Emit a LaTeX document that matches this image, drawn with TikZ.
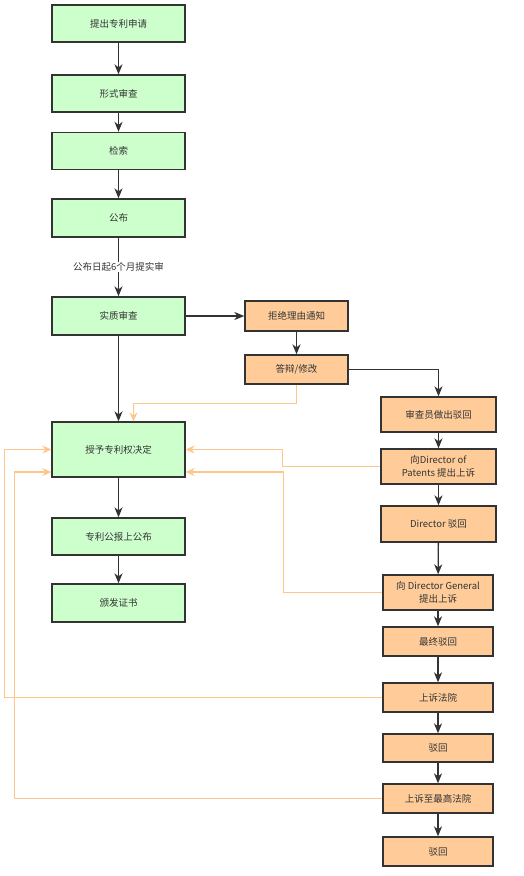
\documentclass[tikz,border=0pt]{standalone}
\usepackage{fontspec}
\setmainfont{Noto Sans CJK SC}
\usepackage{tikz}
\usetikzlibrary{arrows.meta}

\definecolor{boxgreen}{HTML}{CCFFCC}
\definecolor{boxorange}{HTML}{FFCC99}
\definecolor{lineorange}{HTML}{FFC68A}
\definecolor{darkline}{HTML}{333333}

\tikzset{
  greenbox/.style={draw=darkline, line width=1.3pt, fill=boxgreen, text=darkline,
    minimum width=133pt, inner sep=0pt, align=center, font=\fontsize{9.5}{13}\selectfont},
  orangebox/.style={draw=darkline, line width=1.3pt, fill=boxorange, text=darkline,
    minimum width=115pt, inner sep=0pt, align=center, font=\fontsize{9.5}{13}\selectfont},
  flow/.style={draw=darkline, line width=1.3pt, -{Stealth[length=10pt,width=8pt,inset=3pt]}},
  back/.style={draw=lineorange, line width=1.3pt, -{Stealth[length=9pt,width=8pt,inset=3pt]}},
}

\begin{document}
\begin{tikzpicture}[x=1pt,y=-1pt]
      \useasboundingbox (0,0) rectangle (524,876);
      % left column
      \node[greenbox, minimum height=37pt] (apply) at (118.5,23.5) {提出专利申请};
      \node[greenbox, minimum height=37pt] (formal) at (118.5,93.5) {形式审查};
      \node[greenbox, minimum height=37pt] (search) at (118.5,151) {检索};
      \node[greenbox, minimum height=38pt] (publish) at (118.5,218) {公布};
      \node[greenbox, minimum height=38pt] (exam) at (118.5,316) {实质审查};
      \node[greenbox, minimum height=55pt] (grant) at (118.5,449.5) {授予专利权决定};
      \node[greenbox, minimum height=37pt] (gazette) at (118.5,536.5) {专利公报上公布};
      \node[greenbox, minimum height=38pt] (cert) at (118.5,603) {颁发证书};
      % middle column
      \node[orangebox, minimum width=103pt, minimum height=30pt] (refuse) at (296.5,316) {拒绝理由通知};
      \node[orangebox, minimum width=103pt, minimum height=29pt] (reply) at (296.5,369.5) {答辩/修改};
      % right column
      \node[orangebox, minimum height=35pt] (reject) at (438.5,414.5) {审查员做出驳回};
      \node[orangebox, minimum height=35pt] (appdp) at (438.5,466.5) {向Director of\\Patents 提出上诉};
      \node[orangebox, minimum height=36pt] (dreject) at (438.5,524) {Director 驳回};
      \node[orangebox, minimum width=110pt, minimum height=35pt] (appdg) at (438,592.5) {向 Director General\\提出上诉};
      \node[orangebox, minimum width=110pt, minimum height=29pt] (final) at (438,641.5) {最终驳回};
      \node[orangebox, minimum width=110pt, minimum height=29pt] (court) at (438,697.5) {上诉法院};
      \node[orangebox, minimum width=110pt, minimum height=28pt] (crej) at (438,748) {驳回};
      \node[orangebox, minimum width=110pt, minimum height=29pt] (supreme) at (438,798.5) {上诉至最高法院};
      \node[orangebox, minimum width=110pt, minimum height=29pt] (srej) at (438,851.5) {驳回};

      % main flow
      \draw[flow] (apply) -- (formal);
      \draw[flow] (formal) -- (search);
      \draw[flow] (search) -- (publish);
      \draw[flow] (publish) -- node[fill=white, text=darkline, inner sep=1pt,
        font=\fontsize{9.5}{12}\selectfont] {公布日起6个月提实审} (exam);
      \draw[flow] (exam) -- (grant);
      \draw[flow] (grant) -- (gazette);
      \draw[flow] (gazette) -- (cert);
      \draw[flow] (exam) -- (refuse);
      \draw[flow] (refuse) -- (reply);
      \draw[flow] (reply.east) -| (reject.north);
      \draw[flow] (reject) -- (appdp);
      \draw[flow] (appdp) -- (dreject);
      \draw[flow] (dreject) -- (appdg);
      \draw[flow] (appdg) -- (final);
      \draw[flow] (final) -- (court);
      \draw[flow] (court) -- (crej);
      \draw[flow] (crej) -- (supreme);
      \draw[flow] (supreme) -- (srej);

      % back to grant
      \draw[back] (reply.south) -- ++(0,19) -| ([xshift=15pt]grant.north);
      \draw[back] (appdp.west) -- ++(-98,0) |- (grant.east);
      \draw[back] (appdg.west) -- ++(-99,0) |- ([yshift=-22.5pt]grant.east);
      \draw[back] (court.west) -- ++(-378,0) |- (grant.west);
      \draw[back] (supreme.west) -- ++(-368,0) |- ([yshift=-22.5pt]grant.west);
    \end{tikzpicture}
\end{document}
